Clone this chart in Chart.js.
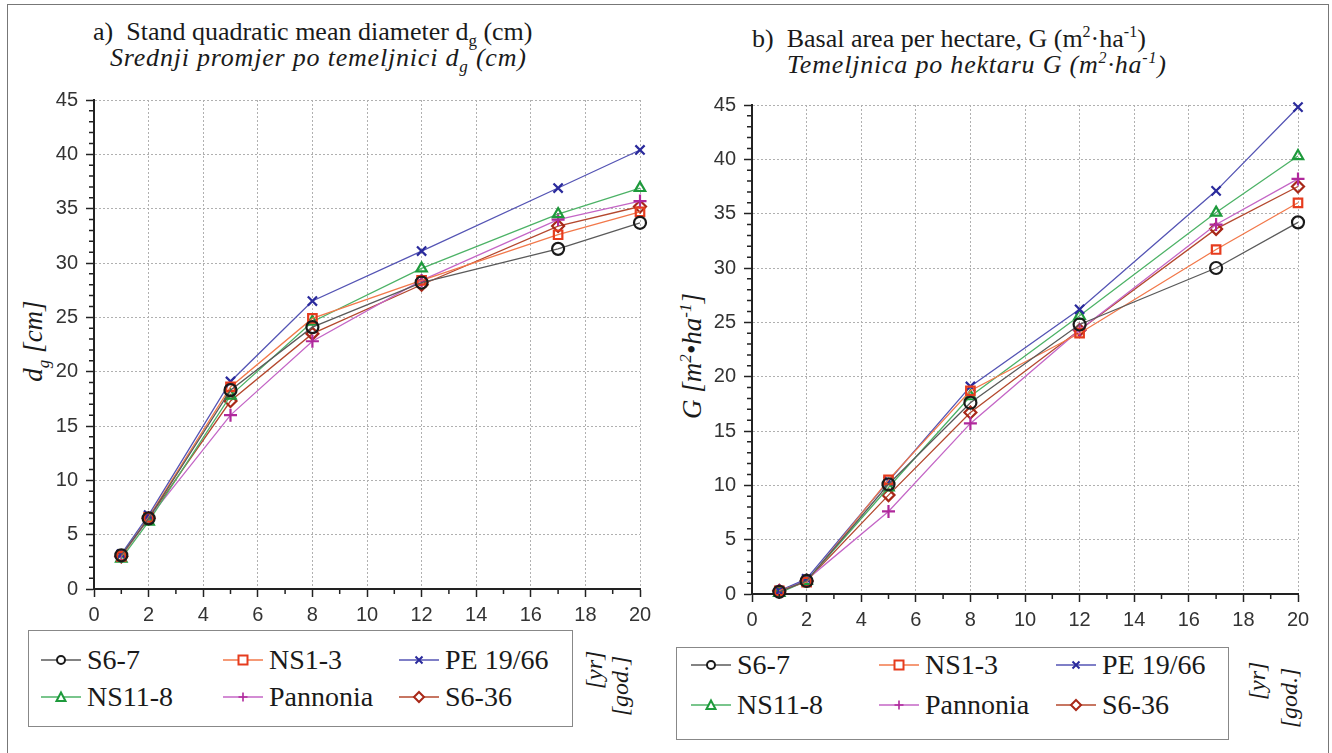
<!DOCTYPE html>
<html>
<head>
<meta charset="utf-8">
<script src="https://cdn.jsdelivr.net/npm/chart.js@4.4.1/dist/chart.umd.min.js"></script>
<style>
  body { margin: 0; background: #fff; width: 1332px; height: 753px; overflow: hidden; position: relative; font-family: "Liberation Serif", "Times New Roman", serif; color: #1a1a1a; }
  .frame { position: absolute; left: 7px; top: 4px; width: 1320px; height: 780px; border: 1px solid #777; }
  .abs { position: absolute; white-space: nowrap; font-family: "Liberation Serif", serif; }
  .title { font-size: 26px; line-height: 28px; }
  .it { font-style: italic; letter-spacing: 0.8px; }
  .rot { position: absolute; white-space: nowrap; transform: translate(-50%, -50%) rotate(-90deg); font-style: italic; font-size: 24px; font-family: "Liberation Serif", serif; }
  canvas { position: absolute; }
  .legend { position: absolute; border: 1.5px solid #888; background: #fff; }
  .item { position: absolute; font-family: "Liberation Serif", serif; font-size: 28px; line-height: 30px; display: flex; align-items: center; }
  .item svg { margin-right: 6px; }
</style>
</head>
<body>
<div class="frame"></div>

<div class="abs title" style="left:93px; top:18px;">a)&nbsp; Stand quadratic mean diameter d<sub style="font-size:17px">g</sub> (cm)</div>
<div class="abs title it" style="left:110px; top:44px;">Srednji promjer po temeljnici d<sub style="font-size:17px">g</sub> (cm)</div>
<div class="abs title" style="left:752px; top:18px;">b)&nbsp; Basal area per hectare, G (m<sup style="font-size:16px">2</sup>·ha<sup style="font-size:16px">-1</sup>)</div>
<div class="abs title it" style="left:787px; top:44px;">Temeljnica po hektaru G (m<sup style="font-size:16px">2</sup>·ha<sup style="font-size:16px">-1</sup>)</div>

<div class="rot" style="left:36px; top:341px; font-size:27px;">d<sub style="font-size:17px">g</sub> [cm]</div>
<div class="rot" style="left:692px; top:356px; font-size:27px;">G [m<sup style="font-size:17px">2</sup>•ha<sup style="font-size:17px">-1</sup>]</div>

<canvas id="chartA" width="666" height="549" style="left:0px; top:80px;"></canvas>
<canvas id="chartB" width="666" height="549" style="left:666px; top:85px;"></canvas>

<div class="legend" id="legA" style="left:28px; top:630px; width:543px; height:95px;"></div>
<div class="legend" id="legB" style="left:676px; top:647px; width:551px; height:91px;"></div>

<div class="rot" style="left:594px; top:670px;">[yr]</div>
<div class="rot" style="left:620px; top:686px;">[god.]</div>
<div class="rot" style="left:1257px; top:681px;">[yr]</div>
<div class="rot" style="left:1289px; top:698px;">[god.]</div>

<script>
// Godine (x) i serije
var godine = [1, 2, 5, 8, 12, 17, 20];
var serije = ['S6-7', 'NS1-3', 'PE 19/66', 'NS11-8', 'Pannonia', 'S6-36'];

// a) srednji promjer dg (cm)
var dg_S67     = [3.1, 6.5, 18.3, 24.1, 28.2, 31.3, 33.7];
var dg_NS13    = [3.0, 6.6, 18.6, 24.9, 28.4, 32.6, 34.7];
var dg_PE1966  = [3.2, 6.8, 19.1, 26.5, 31.1, 36.9, 40.4];
var dg_NS118   = [2.8, 6.2, 17.8, 24.6, 29.5, 34.5, 36.9];
var dg_Pann    = [3.0, 6.5, 16.0, 22.8, 28.4, 34.0, 35.7];
var dg_S636    = [3.0, 6.5, 17.3, 23.5, 28.0, 33.4, 35.2];

// b) temeljnica G (m2/ha)
var G_S67      = [0.2, 1.2, 10.1, 17.6, 24.8, 30.0, 34.2];
var G_NS13     = [0.3, 1.1, 10.5, 18.7, 24.0, 31.7, 36.0];
var G_PE1966   = [0.3, 1.4, 10.4, 19.1, 26.2, 37.1, 44.8];
var G_NS118    = [0.1, 1.2, 9.8, 18.2, 25.6, 35.1, 40.3];
var G_Pann     = [0.3, 1.3, 7.6, 15.7, 24.3, 34.0, 38.2];
var G_S636     = [0.3, 1.2, 9.1, 16.7, 24.3, 33.6, 37.5];

var yTicks = [0, 5, 10, 15, 20, 25, 30, 35, 40, 45];
var xTicks = [0, 2, 4, 6, 8, 10, 12, 14, 16, 18, 20];

// stilovi
var bojeLinija = ['#5a5a5a', '#f2784a', '#5454b4', '#4cb266', '#c466c6', '#b4482e'];
var bojeTocaka = ['#1a1a1a', '#e63c1e', '#2a2a9c', '#1e9a3c', '#b0289c', '#a82818'];
var oblici = ['circle', 'rect', 'crossRot', 'triangle', 'cross', 'rectRot'];

function tocke(vals) {
    return godine.map(function(g, i) { return { x: g, y: vals[i] }; });
}

function skupovi(nizovi) {
    return nizovi.map(function(vals, i) {
        return {
            label: serije[i],
            data: tocke(vals),
            borderColor: bojeLinija[i],
            borderWidth: 1.3,
            pointStyle: oblici[i],
            pointRadius: oblici[i] === 'cross' || oblici[i] === 'crossRot' ? 6.5 : 6,
            pointBorderColor: bojeTocaka[i],
            pointBackgroundColor: 'rgba(255,255,255,0)',
            pointBorderWidth: 2.2,
            clip: false,
            tension: 0
        };
    });
}

// male crtice (minor ticks) svakih 1 jedinicu
var sitneCrtice = {
    id: 'sitneCrtice',
    afterDraw: function(chart) {
        var ctx = chart.ctx;
        var xs = chart.scales.x, ys = chart.scales.y;
        ctx.save();
        ctx.strokeStyle = '#222';
        ctx.lineWidth = 1.5;
        ctx.beginPath();
        for (var v = 0; v <= 45; v++) {
            if (v % 5 === 0) continue;
            var py = ys.getPixelForValue(v);
            ctx.moveTo(ys.right - 5, py); ctx.lineTo(ys.right, py);
        }
        for (var u = 0; u <= 20; u++) {
            if (u % 2 === 0) continue;
            var px = xs.getPixelForValue(u);
            ctx.moveTo(px, xs.top); ctx.lineTo(px, xs.top + 5);
        }
        ctx.stroke();
        ctx.restore();
    }
};

function opcije(yWidth, padRight) {
    var tickFont = { family: '"Liberation Sans", Arial, sans-serif', size: 20 };
    return {
        responsive: false,
        animation: false,
        layout: { padding: { top: 16, right: padRight, left: 0, bottom: 0 } },
        plugins: { legend: { display: false }, tooltip: { enabled: false } },
        scales: {
            x: {
                type: 'linear', min: 0, max: 20,
                afterBuildTicks: function(s) { s.ticks = xTicks.map(function(v) { return { value: v }; }); },
                afterFit: function(s) { s.height = 40; },
                ticks: { font: tickFont, color: '#333', padding: 6, maxRotation: 0 },
                grid: { color: '#b0b0b0', lineWidth: 1, tickLength: 8, tickColor: '#222', tickWidth: 1.5 },
                border: { color: '#222', width: 2, dash: [2, 2] }
            },
            y: {
                min: 0, max: 45,
                afterBuildTicks: function(s) { s.ticks = yTicks.map(function(v) { return { value: v }; }); },
                afterFit: function(s) { s.width = yWidth; },
                ticks: { font: tickFont, color: '#333', padding: 8 },
                grid: { color: '#b0b0b0', lineWidth: 1, tickLength: 8, tickColor: '#222', tickWidth: 1.5 },
                border: { color: '#222', width: 2, dash: [2, 2] }
            }
        }
    };
}

function ikona(i) {
    var m = '';
    var c = bojeTocaka[i];
    if (oblici[i] === 'circle') m = '<circle cx="20" cy="8" r="4" fill="#fff" stroke="' + c + '" stroke-width="2"/>';
    if (oblici[i] === 'rect') m = '<rect x="15.5" y="3.5" width="9" height="9" fill="#fff" stroke="' + c + '" stroke-width="2"/>';
    if (oblici[i] === 'crossRot') m = '<path d="M16.5 4.5L23.5 11.5M23.5 4.5L16.5 11.5" stroke="' + c + '" stroke-width="2"/>';
    if (oblici[i] === 'triangle') m = '<path d="M20 3.5L24.5 12L15.5 12Z" fill="#fff" stroke="' + c + '" stroke-width="2"/>';
    if (oblici[i] === 'cross') m = '<path d="M20 3.5L20 12.5M15.5 8L24.5 8" stroke="' + c + '" stroke-width="1.6"/>';
    if (oblici[i] === 'rectRot') m = '<path d="M20 3L25 8L20 13L15 8Z" fill="#fff" stroke="' + c + '" stroke-width="2"/>';
    return '<svg width="40" height="16"><line x1="0" y1="8" x2="40" y2="8" stroke="' + bojeLinija[i] + '" stroke-width="1.3"/>' + m + '</svg>';
}

function legenda(id, stupci, redovi) {
    var el = document.getElementById(id);
    var html = '';
    serije.forEach(function(s, i) {
        html += '<div class="item" style="left:' + stupci[i % 3] + 'px; top:' + redovi[Math.floor(i / 3)] + 'px;">' + ikona(i) + s + '</div>';
    });
    el.innerHTML = html;
}

document.addEventListener("DOMContentLoaded", function() {
    new Chart(document.getElementById('chartA').getContext('2d'), {
        type: 'line',
        data: { datasets: skupovi([dg_S67, dg_NS13, dg_PE1966, dg_NS118, dg_Pann, dg_S636]) },
        options: opcije(94, 26),
        plugins: [sitneCrtice]
    });

    new Chart(document.getElementById('chartB').getContext('2d'), {
        type: 'line',
        data: { datasets: skupovi([G_S67, G_NS13, G_PE1966, G_NS118, G_Pann, G_S636]) },
        options: opcije(86, 34),
        plugins: [sitneCrtice]
    });

    legenda('legA', [12, 194, 370], [14, 51]);
    legenda('legB', [14, 202, 379], [2, 42]);
});
</script>
</body>
</html>
